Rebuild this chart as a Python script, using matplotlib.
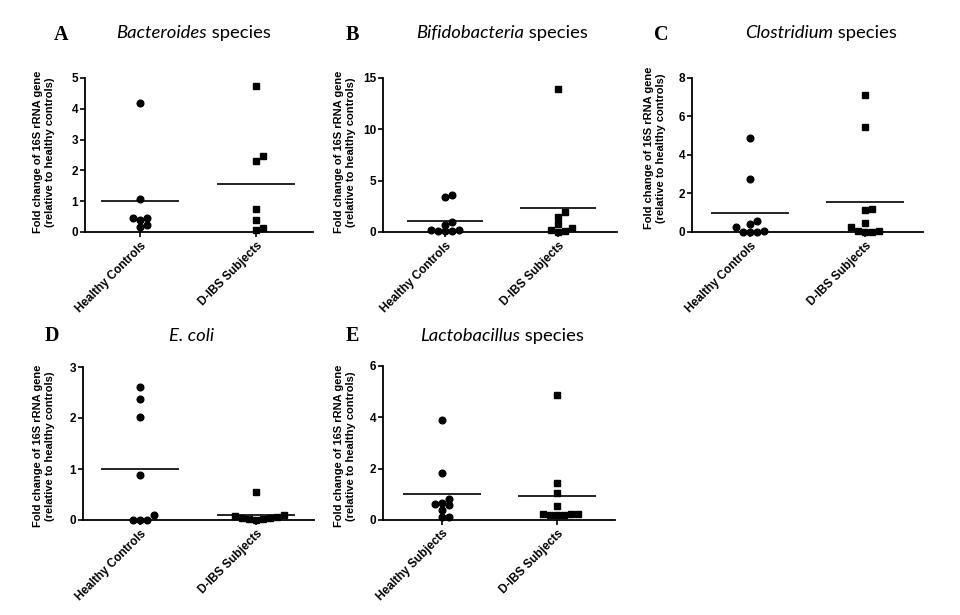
import numpy as np
import matplotlib.pyplot as plt

W, H = 960, 615

# fold change values
groups = ["Healthy Controls", "D-IBS Subjects"]
groups_e = ["Healthy Subjects", "D-IBS Subjects"]

bact_hc = [4.2, 1.07, 0.47, 0.45, 0.40, 0.22, 0.15]
bact_ibs = [4.75, 2.47, 2.32, 0.75, 0.38, 0.14, 0.05]
bifi_hc = [3.64, 3.38, 0.94, 0.65, 0.16, 0.12, 0.05, 0.12, 0.16]
bifi_ibs = [13.93, 1.92, 1.49, 0.81, 0.39, 0.23, 0.06, 0.0]
clos_hc = [4.88, 2.77, 0.57, 0.42, 0.25, 0.07, 0.02, 0.02, 0.0]
clos_ibs = [7.1, 5.47, 1.17, 1.13, 0.47, 0.27, 0.07, 0.05, 0.02, 0.0]
ecoli_hc = [2.6, 2.375, 2.01, 0.885, 0.1, 0.0, 0.0, 0.0]
ecoli_ibs = [0.553, 0.09, 0.085, 0.05, 0.04, 0.03, 0.01, 0.01, 0.0]
lacto_hc = [3.91, 1.84, 0.82, 0.65, 0.62, 0.58, 0.39, 0.12, 0.10]
lacto_ibs = [4.86, 1.43, 1.04, 0.545, 0.23, 0.23, 0.22, 0.21, 0.20, 0.20]

ylab = "Fold change of 16S rRNA gene\n(relative to healthy controls)"
tick_font = dict(family="Liberation Sans", weight="bold", size=8.5)
title_size = 13.3

# panel: letter, italic part, plain part, data, labels, yticks,
#        axes box in px (left, right, y of zero, y of top), category px centres
panels = [
    ("A", "Bacteroides", " species", (bact_hc, bact_ibs), groups, [0, 1, 2, 3, 4, 5],
     (85, 313, 232, 78), (140, 256), (61, 35), (116, 38), (44, 152)),
    ("B", "Bifidobacteria", " species", (bifi_hc, bifi_ibs), groups, [0, 5, 10, 15],
     (383, 617, 232, 78), (445, 558), (352, 35), (416, 38), (345, 152)),
    ("C", "Clostridium", " species", (clos_hc, clos_ibs), groups, [0, 2, 4, 6, 8],
     (692, 923, 232, 78), (750, 865), (661, 35), (745, 38), (655, 148)),
    ("D", "E. coli", "", (ecoli_hc, ecoli_ibs), groups, [0, 1, 2, 3],
     (83, 314, 520, 367), (140, 256), (52, 336), (169, 341), (44, 446)),
    ("E", "Lactobacillus", " species", (lacto_hc, lacto_ibs), groups_e, [0, 2, 4, 6],
     (383, 615, 520, 366), (442, 557), (352, 336), (420, 341), (345, 446)),
]


def swarm(vals, ppy, step=7.0, diam=6.0):
    # simple dot-plot spreading, offsets in pixels
    vals = np.asarray(vals, dtype=float)
    placed = []
    offs = np.zeros(len(vals))
    for i in np.argsort(vals, kind="stable"):
        y = vals[i] * ppy
        for k in [0, 1, -1, 2, -2, 3, -3, 4, -4]:
            x = k * step
            if all((x - px) ** 2 + (y - py) ** 2 >= diam ** 2 for px, py in placed):
                break
        placed.append((x, y))
        offs[i] = x
    return offs


fig = plt.figure(figsize=(W / 100, H / 100), dpi=100)

for letter, ital, plain, data, labels, yticks, box, cats, lpos, tpos, ypos in panels:
    l, r, b, t = box
    ax = fig.add_axes([l / W, 1 - b / H, (r - l) / W, (b - t) / H])
    ppx = cats[1] - cats[0]
    ax.set_xlim(-(cats[0] - l) / ppx, 1 + (r - cats[1]) / ppx)
    ymax = yticks[-1]
    ax.set_ylim(0, ymax)
    ppy = (b - t) / ymax

    for i, (vals, mk) in enumerate(zip(data, ["o", "s"])):
        offs = swarm(vals, ppy) / ppx
        ax.plot(i + offs, vals, ls="none", marker=mk, ms=4.8 if mk == "o" else 4.4,
                color="black", clip_on=False, zorder=3)
        ax.hlines(np.mean(vals), i - 0.34, i + 0.34, color="black", lw=1.2)

    for s in ["top", "right"]:
        ax.spines[s].set_visible(False)
    for s in ["left", "bottom"]:
        ax.spines[s].set_linewidth(1.3)
    ax.set_yticks(yticks)
    ax.set_xticks([0, 1])
    ax.tick_params(axis="y", direction="out", length=3.5, width=1.2, pad=1.5)
    ax.tick_params(axis="x", direction="out", length=3.5, width=1.2, pad=2)
    ax.set_yticklabels([str(v) for v in yticks], **tick_font)
    ax.set_xticklabels(labels, rotation=45, ha="right", va="top",
                       rotation_mode="anchor", **tick_font)

    fig.text(lpos[0] / W, 1 - lpos[1] / H, letter, family="Liberation Serif",
             weight="bold", size=14.5, ha="center", va="center")
    t1 = fig.text(tpos[0] / W, 1 - tpos[1] / H, ital, family="Lato", style="italic",
                  size=title_size, ha="left", va="baseline")
    if plain:
        ax.annotate(plain, xy=(1, 0), xycoords=t1, ha="left", va="bottom",
                    family="Lato", size=title_size, annotation_clip=False)
    fig.text(ypos[0] / W, 1 - ypos[1] / H, ylab, rotation=90, ha="center", va="center",
             multialignment="center", family="Liberation Sans", weight="bold",
             size=8, linespacing=1.15)

fig.savefig("out.png", dpi=100)
